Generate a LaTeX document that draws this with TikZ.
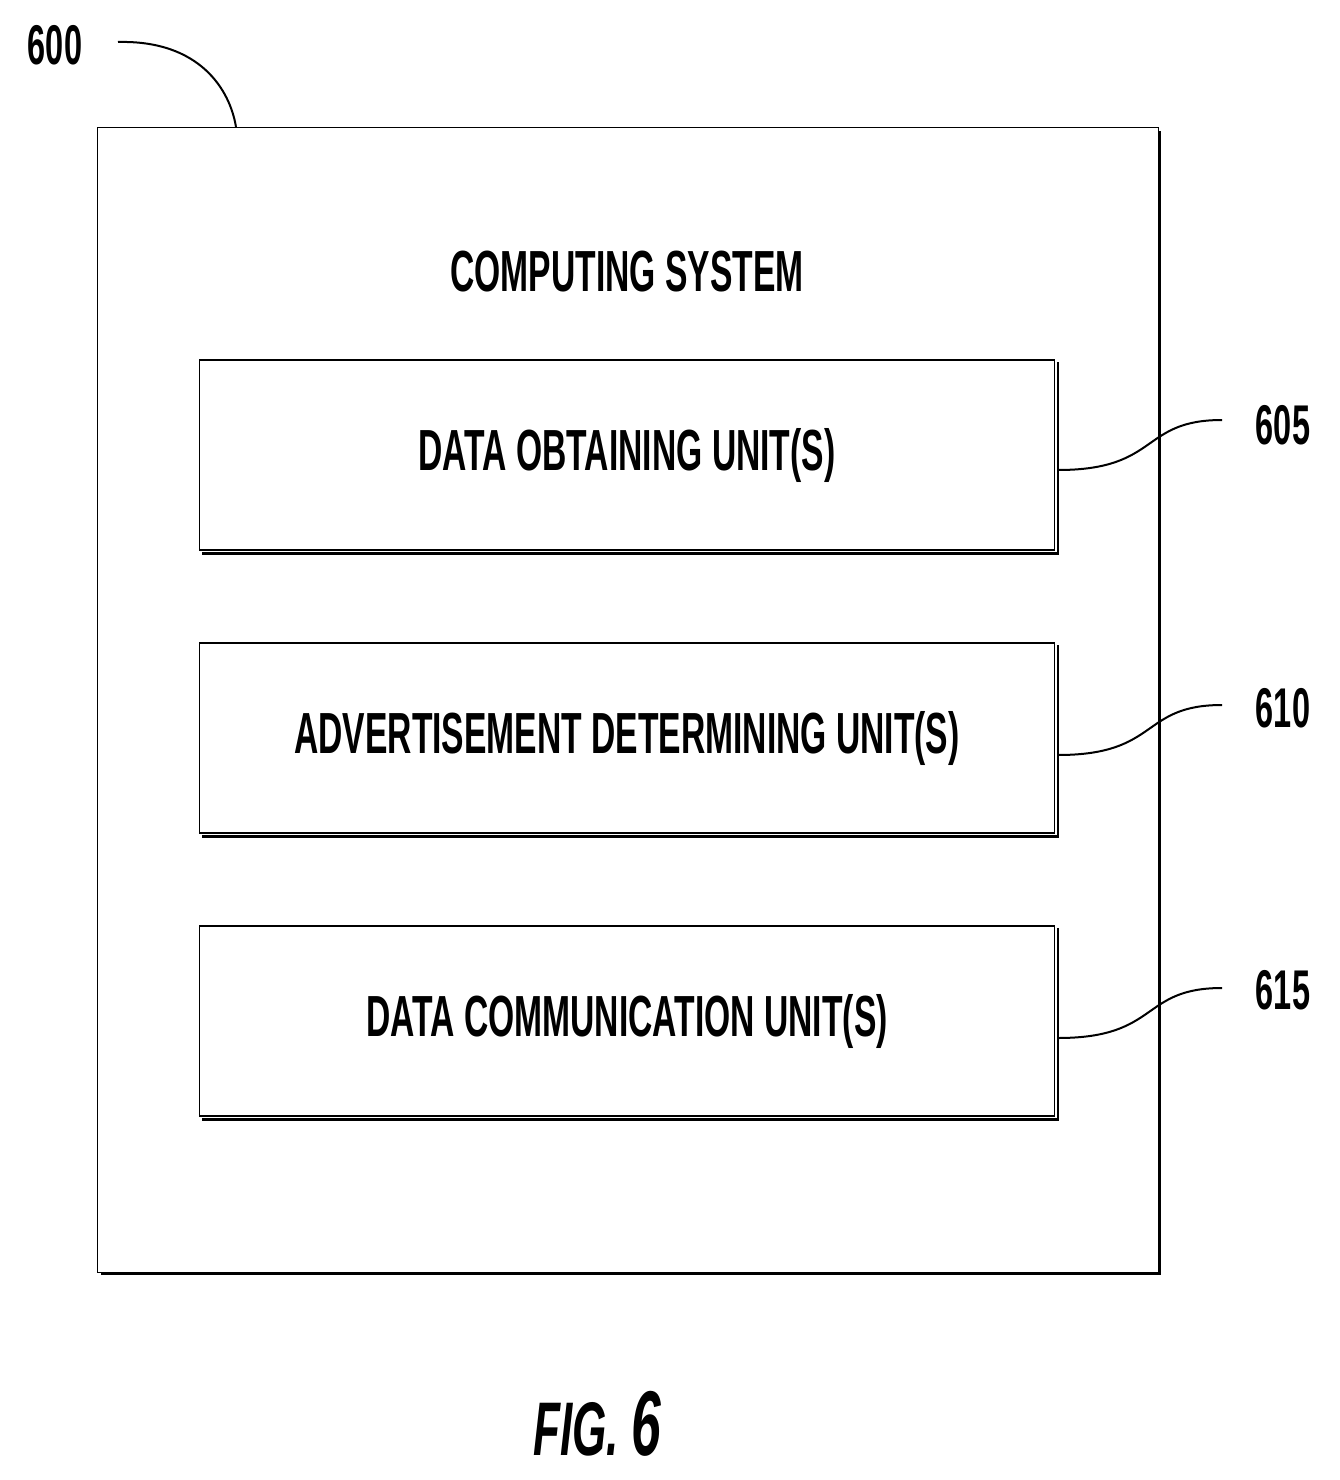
\documentclass[tikz,border=0pt]{standalone}
\usepackage{fontspec}
\setmainfont{Liberation Sans}
\newcommand{\cond}[1]{\scalebox{0.58}[1]{#1}}
\begin{document}
\begin{tikzpicture}[x=1pt,y=-1pt,
  box/.style={draw,line width=1.2pt,minimum width=855pt,minimum height=190pt,inner sep=0pt,font=\fontsize{58}{58}\selectfont\bfseries},
  lead/.style={line width=2pt},
  lbl/.style={font=\fontsize{56}{56}\selectfont\bfseries,inner sep=0pt}]
\useasboundingbox (0,0) rectangle (1339,1480);
% outer
\node[draw,line width=1.2pt,minimum width=1061pt,minimum height=1145pt,inner sep=0pt,anchor=north west] (sys) at (97,127) {};
\draw[line width=2.5pt] (1160,131) -- (1160,1274) -- (101,1274);
\node[font=\fontsize{58}{58}\selectfont\bfseries,inner sep=0pt] (title) at (627,272) {\cond{COMPUTING SYSTEM}};
\node[box] (b1) at (627,455) {\cond{DATA OBTAINING UNIT(S)}};
\node[box] (b2) at (627,738) {\cond{ADVERTISEMENT DETERMINING UNIT(S)}};
\node[box] (b3) at (627,1021) {\cond{DATA COMMUNICATION UNIT(S)}};
\foreach \b in {b1,b2,b3}{
  \draw[line width=2.5pt] ([shift={(3,3)}]\b.north east) -- ([shift={(3,3)}]\b.south east) -- ([shift={(3,3)}]\b.south west);
}
% labels
\node[lbl] (l600) at (55,45) {\cond{600}};
\node[lbl] (l605) at (1283,425) {\cond{605}};
\node[lbl] (l610) at (1283,708) {\cond{610}};
\node[lbl] (l615) at (1283,990) {\cond{615}};
\coordinate (c600) at (118,42);
\draw[lead] (c600) .. controls (200,40) and (230,90) .. (236,127);
\foreach \b/\l/\y in {b1/l605/470,b2/l610/755,b3/l615/1038}{
  \coordinate (s\b) at (1058,\y);
  \coordinate (e\b) at (1222,\y-50);
  \draw[lead] (s\b) .. controls (1160,\y) and (1140,\y-50) .. (e\b);
}
\node[font=\fontsize{76}{76}\selectfont\itshape\bfseries,inner sep=0pt] (fig) at (597,1424) {\cond{FIG. \fontsize{92}{92}\selectfont 6}};
\end{tikzpicture}
\end{document}
